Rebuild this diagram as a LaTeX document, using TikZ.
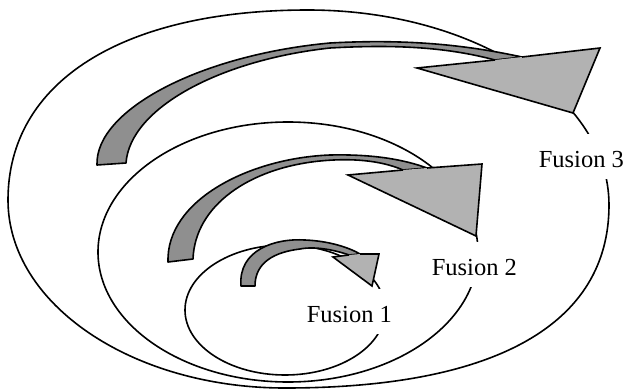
\documentclass[tikz,border=0pt]{standalone}
\usepackage{fontspec}
\setmainfont{Liberation Serif}
\begin{document}
\begin{tikzpicture}[x=1pt,y=-1pt,line width=1.6pt,
    band/.style={draw=black,fill=black!44,line join=round},
    head/.style={draw=black,fill=black!30,line join=miter},
    lbl/.style={fill=white,inner sep=0pt,anchor=base west,text height=33pt,text depth=12pt,
      font=\fontsize{24.5}{29}\selectfont}]
    \useasboundingbox (0,0) rectangle (624,389);
    \draw (308,10) .. controls (474,10) and (609,97) .. (609,205)
      .. controls (609,324) and (496,388) .. (285,388)
      .. controls (132,388) and (8,304) .. (8,200)
      .. controls (8,82) and (122,10) .. (308,10) -- cycle;
    \draw (288,252) ellipse [x radius=190pt, y radius=130pt];
    \draw (285,310) ellipse [x radius=100pt, y radius=65pt];
    \draw[band] (97,165) .. controls (95,110) and (200,55) .. (330,43)
      .. controls (420,38) and (480,48) .. (522,57) -- (495,60)
      .. controls (450,48) and (400,44) .. (330,48)
      .. controls (220,60) and (130,108) .. (126,163) -- cycle;
    \draw[head] (495,60) -- (417,68) -- (573,113) -- (600,48) -- (522,57);
    \draw[band] (168,262) .. controls (166,200) and (250,158) .. (330,155)
      .. controls (375,154) and (405,160) .. (427,168) -- (403,170)
      .. controls (380,160) and (350,158) .. (320,161)
      .. controls (250,168) and (195,205) .. (193,259) -- cycle;
    \draw[head] (403,170) -- (348,175) -- (476,236) -- (482,164) -- (427,168);
    \draw[band] (241,286) .. controls (238,250) and (275,238) .. (305,240)
      .. controls (330,241) and (350,248) .. (360,254) -- (349,255)
      .. controls (335,250) and (315,246) .. (300,249)
      .. controls (275,252) and (255,262) .. (255,286) -- cycle;
    \draw[head] (349,255) -- (333,257) -- (372,286) -- (379,254) -- (360,254);
    \node[lbl] (fus3) at (538,167) {Fusion 3};
    \node[lbl] (fus2) at (431,275) {Fusion 2};
    \node[lbl] (fus1) at (306,322) {Fusion 1};
\end{tikzpicture}
\end{document}
